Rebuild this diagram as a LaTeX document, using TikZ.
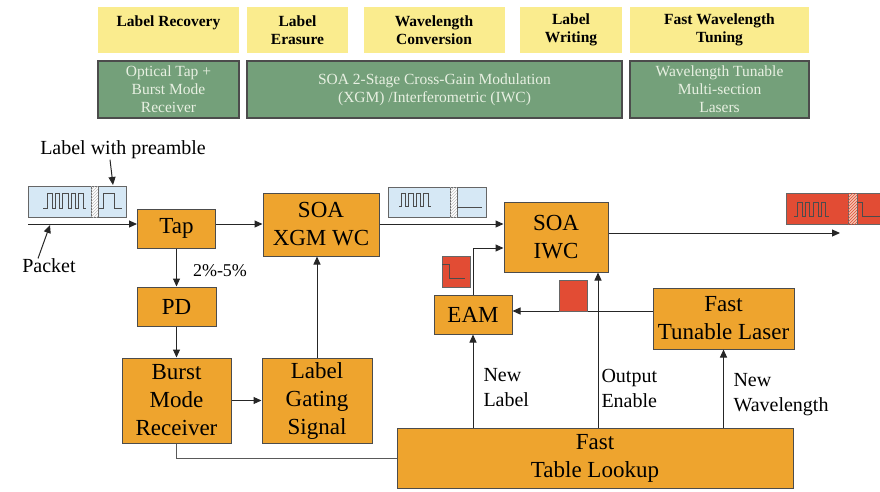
\documentclass[tikz,border=0pt]{standalone}
\usepackage{fontspec}
\IfFontExistsTF{LiberationSerif-Regular.ttf}
  {\setmainfont{LiberationSerif}[Extension=.ttf,UprightFont=*-Regular,BoldFont=*-Bold]}
  {\setmainfont{Liberation Serif}}
\usetikzlibrary{arrows.meta,patterns}
\definecolor{stageyellow}{RGB}{250,236,142}
\definecolor{techgreen}{RGB}{116,160,122}
\definecolor{techtext}{RGB}{232,240,226}
\definecolor{boxorange}{RGB}{238,164,46}
\definecolor{pktblue}{RGB}{214,232,245}
\definecolor{lblred}{RGB}{226,76,52}
\definecolor{hatchpink}{RGB}{244,196,178}

\begin{document}
\begin{tikzpicture}[x=1pt,y=-1pt,line width=1pt,
    arr/.style={draw=black!85,-{Triangle[length=8pt,width=7pt]}},
    wire/.style={draw=black!65},
    pulse/.style={draw=black!70,line width=0.9pt},
    stage/.style={fill=stageyellow,align=center,inner sep=0pt,minimum height=46pt,
      font=\bfseries\fontsize{15.5}{18}\selectfont},
    tech/.style={draw=black!70,line width=1.3pt,fill=techgreen,text=techtext,align=center,
      inner sep=0pt,minimum height=57pt,font=\fontsize{15.5}{18}\selectfont},
    blk/.style={draw=black!70,fill=boxorange,align=center,inner sep=0pt,
      font=\fontsize{23}{28}\selectfont},
    note/.style={inner sep=0pt,align=left,font=\fontsize{20}{25}\selectfont}]
  \useasboundingbox (0,0) rectangle (880,491);

  \node[stage,minimum width=141pt] (recovery) at (168.5,30) {Label Recovery\\\mbox{}};
  \node[stage,minimum width=101pt] (erasure) at (297.5,30) {Label\\Erasure};
  \node[stage,minimum width=141pt] (conversion) at (434,30) {Wavelength\\Conversion};
  \node[stage,minimum width=102pt] (writing) at (571,30) {Label\\Writing};
  \node[stage,minimum width=179pt] (tuning) at (719.5,30) {Fast Wavelength\\Tuning};
  \node[tech,minimum width=141pt] (taprx) at (168.5,89.5) {Optical Tap +\\Burst Mode\\Receiver};
  \node[tech,minimum width=375pt] (soatech) at (434.5,89.5)
    {SOA 2-Stage Cross-Gain Modulation\\(XGM) /Interferometric (IWC)};
  \node[tech,minimum width=179pt] (lasers) at (719.5,89.5) {Wavelength Tunable\\Multi-section\\Lasers};

  \node[blk,minimum width=78pt,minimum height=39pt] (tap) at (176.5,228.5) {Tap};
  \node[blk,minimum width=116pt,minimum height=63pt] (xgm) at (321,224.5) {SOA\\XGM WC};
  \node[blk,minimum width=104pt,minimum height=70pt] (iwc) at (556,237) {SOA\\IWC};
  \node[blk,minimum width=79pt,minimum height=39pt] (pd) at (176.5,306.5) {PD};
  \node[blk,minimum width=109pt,minimum height=85pt] (bmr) at (176.5,400.5) {Burst\\Mode\\Receiver};
  \node[blk,minimum width=110pt,minimum height=85pt] (gating) at (317,400.5) {Label\\Gating\\Signal};
  \node[blk,minimum width=78pt,minimum height=39pt] (eam) at (473,314.5) {EAM};
  \node[blk,minimum width=141pt,minimum height=61pt] (ftl) at (723.5,318.5) {Fast\\Tunable Laser};
  \node[blk,minimum width=396pt,minimum height=60pt] (lookup) at (595,458) {Fast\\Table Lookup};

  \node[note] (preamble) at (123,150) {Label with preamble};
  \node[note] (packet) at (49,266) {Packet};
  \node[note,font=\fontsize{18}{22}\selectfont] (ratio) at (220,271) {2\%-5\%};
  \node[note,anchor=west] (newlabel) at (483,388) {New\\Label};
  \node[note,anchor=west] (enable) at (601,388) {Output\\Enable};
  \node[note,anchor=west] (newwl) at (733,395) {New\\Wavelength};

  \coordinate (pin) at (28,224);
  \coordinate (pout) at (840,233);
  \coordinate (oe) at (598,428);
  \coordinate (lbltip) at (113,185);
  \coordinate (pkttip) at (50,225);

  \draw[arr] (pin) -- (pin -| tap.west);
  \draw[arr] (pin -| tap.east) -- (pin -| xgm.west);
  \draw[arr] (pin -| xgm.east) -- (pin -| iwc.west);
  \draw[arr] (pout -| iwc.east) -- (pout);
  \draw[arr] (tap) -- (pd);
  \draw[arr] (pd) -- (bmr);
  \draw[arr] (bmr) -- (gating);
  \draw[arr] (gating.north) -- (gating.north |- xgm.south);
  \draw[wire] (bmr) |- (lookup);
  \draw[arr] (lookup.north -| eam) -- (eam);
  \draw[arr] (oe) -- (oe |- iwc.south);
  \draw[arr] (lookup.north -| ftl) -- (ftl);
  \draw[arr] ([yshift=7.5pt]ftl.west) -- ([yshift=7.5pt]ftl.west -| eam.east);
  \draw[arr] (eam) |- ([yshift=-11pt]iwc.west);
  \draw[arr] ([xshift=-13pt]preamble.south) -- (lbltip);
  \draw[arr] ([xshift=-11pt]packet.north) -- (pkttip);

  \draw[draw=black!60,fill=pktblue] (28,186) rectangle (126,217);
  \draw[draw=black!60,fill=white] (91,186) rectangle (98,217);
  \path[pattern=north east lines,pattern color=black!25] (91,186) rectangle (98,217);
  \draw[pulse] (43,208) -- ++(4,0) \foreach \w in {5,4,6,4,5} {-- ++(0,-15) -- ++(\w,0) -- ++(0,15) -- ++(3,0)};
  \draw[pulse] (99,208) -- (103,208) -- (103,193) -- (114,193) -- (114,208) -- (122,208);

  \draw[draw=black!60,fill=pktblue] (388,187) rectangle (486,217);
  \draw[draw=black!60,fill=white] (450,187) rectangle (457,217);
  \path[pattern=north east lines,pattern color=black!25] (450,187) rectangle (457,217);
  \draw[pulse] (399,206) -- ++(2,0) \foreach \w in {4,5,4,5} {-- ++(0,-13) -- ++(\w,0) -- ++(0,13) -- ++(3,0)};
  \draw[pulse] (457,207) -- (482,207);

  \draw[draw=black!60,fill=lblred] (786,193) rectangle (884,224);
  \draw[draw=black!60,fill=hatchpink] (848,193) rectangle (857,224);
  \path[pattern=north east lines,pattern color=lblred] (848,193) rectangle (857,224);
  \draw[pulse] (794,216) -- ++(3,0) \foreach \w in {5,4,5,4} {-- ++(0,-14) -- ++(\w,0) -- ++(0,14) -- ++(3.5,0)};
  \draw[pulse] (857,202) -- (862,202) -- (862,216) -- (884,216);

  \draw[draw=black!60,fill=lblred] (442,256) rectangle (470,287);
  \draw[pulse] (442,264) -- (449,264) -- (449,278) -- (465,278);
  \draw[draw=black!60,fill=lblred] (559,280) rectangle (587,311);
\end{tikzpicture}
\end{document}
